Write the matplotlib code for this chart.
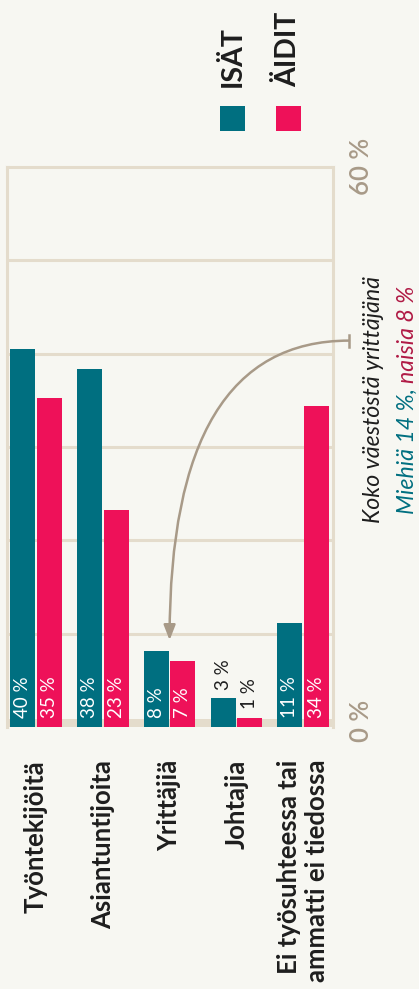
import matplotlib
matplotlib.use("Agg")
import matplotlib.pyplot as plt
import matplotlib.transforms as mtransforms
from matplotlib.patches import Rectangle
import numpy as np

# ---- data ----
categories = ["Työntekijöitä", "Asiantuntijoita", "Yrittäjiä", "Johtajia",
              "Ei työsuhteessa tai\nammatti ei tiedossa"]
isat = [40.5, 38.4, 8.1, 3.1, 11.1]
aidit = [35.3, 23.3, 7.1, 1.0, 34.4]
isat_labels = ["40 %", "38 %", "8 %", "3 %", "11 %"]
aidit_labels = ["35 %", "23 %", "7 %", "1 %", "34 %"]
legend_labels = ["ISÄT", "ÄIDIT"]
y_ticks = [0, 10, 20, 30, 40, 50, 60]
y_tick_labels = ["0 %", "60 %"]
note_line1 = "Koko väestöstä yrittäjänä"
note_men = "Miehiä 14 %, "
note_women = "naisia 8 %"

# ---- style ----
BG = "#f7f7f2"
TEAL = "#006f80"
PINK = "#ee1159"
CRIMSON = "#b01a45"
TAN = "#a89a88"
GRID = "#e4dccc"
DARK = "#1e1e1e"
FONT = "Lato"

W, H = 419, 989
fig = plt.figure(figsize=(W / 100, H / 100), dpi=100, facecolor=BG)
ax = fig.add_axes([7 / W, 1 - 727 / H, 326 / W, 560 / H])
ax.set_facecolor(BG)

x = np.arange(len(categories))
bw = 0.374
off = 0.2
ax.set_xlim(-0.434, 4.446)
ax.set_ylim(0, 60)

for s in ["left", "right", "top"]:
    ax.spines[s].set_color(GRID)
    ax.spines[s].set_linewidth(2.2)
ax.spines["bottom"].set_visible(False)
ax.set_xticks([])
ax.set_yticks([])
for v in y_ticks[1:-1]:
    ax.axhline(v, color=GRID, lw=2.2, zorder=1)
ax.axhspan(0, 0.86, color=GRID, lw=0, zorder=1)

ax.bar(x - off, isat, width=bw, color=TEAL, zorder=3)
ax.bar(x + off, aidit, width=bw, color=PINK, zorder=3)

# value labels
for i in range(len(categories)):
    for xx, val, lab in [(x[i] - off, isat[i], isat_labels[i]),
                         (x[i] + off, aidit[i], aidit_labels[i])]:
        if val > 5:
            ax.text(xx, 0.95, lab, rotation=90, rotation_mode="anchor",
                    ha="left", va="center", color="white", fontsize=13.5,
                    family=FONT, zorder=4)
        else:
            ax.text(xx, val + 0.9, lab, rotation=90, rotation_mode="anchor",
                    ha="left", va="center", color=DARK, fontsize=13.5,
                    family=FONT, zorder=4)

# category labels
trans_cat = mtransforms.blended_transform_factory(ax.transData, fig.transFigure)
for i, c in enumerate(categories):
    ax.text(x[i], 1 - 760 / H, c, rotation=90, ha="center", va="top",
            multialignment="right", fontsize=18.5, fontweight="bold",
            family=FONT, color=DARK, transform=trans_cat, linespacing=1.2)

# value axis labels
trans_ya = mtransforms.blended_transform_factory(ax.transAxes, ax.transData)
for v, lab in zip([y_ticks[0], y_ticks[-1]], y_tick_labels):
    ax.text(1.088, v + (0.6 if v == 0 else 0.1), lab, rotation=90, ha="center",
            va="center", color=TAN, fontsize=18.5, family=FONT,
            fontweight="semibold", transform=trans_ya)

# legend
for cx, col, lab in [(232.5, TEAL, legend_labels[0]), (288.5, PINK, legend_labels[1])]:
    fig.add_artist(Rectangle(((cx - 12.5) / W, 1 - 131 / H), 25 / W, 25 / H,
                             transform=fig.transFigure, color=col, lw=0))
    fig.text(cx / W, 1 - 87 / H, lab, rotation=90, ha="center", va="bottom",
             fontsize=20.5, fontweight="bold", family=FONT, color=DARK)

# arrow annotation
ax.annotate("", xy=(x[2], 9.3), xycoords="data",
            xytext=(1.049, 41.4), textcoords=("axes fraction", "data"),
            arrowprops=dict(arrowstyle="-|>,head_length=0.9,head_width=0.35",
                            connectionstyle="angle3,angleA=0,angleB=90",
                            color=TAN, lw=1.8, shrinkA=0, shrinkB=0),
            annotation_clip=False, zorder=5)
ax.plot([1.049, 1.049], [40.75, 42.05], color=TAN, lw=1.8,
        transform=trans_ya, clip_on=False, zorder=5)

# note text
fig.canvas.draw()
renderer = fig.canvas.get_renderer()
cy = 1 - 400 / H
fig.text(373 / W, cy, note_line1, rotation=90, ha="center", va="center",
         fontsize=16.7, style="italic", family=FONT, color=DARK)
t1 = fig.text(407 / W, 0, note_men, rotation=90, rotation_mode="anchor",
              ha="left", va="center", fontsize=16.7, style="italic",
              family=FONT, color=TEAL)
t2 = fig.text(407 / W, 0, note_women, rotation=90, rotation_mode="anchor",
              ha="left", va="center", fontsize=16.7, style="italic",
              family=FONT, color=CRIMSON)
h1 = t1.get_window_extent(renderer).height
h2 = t2.get_window_extent(renderer).height
start_px = (cy * H) - (h1 + h2) / 2
t1.set_y(start_px / H)
t2.set_y((start_px + h1) / H)

fig.savefig("out.png", dpi=100, facecolor=BG)
